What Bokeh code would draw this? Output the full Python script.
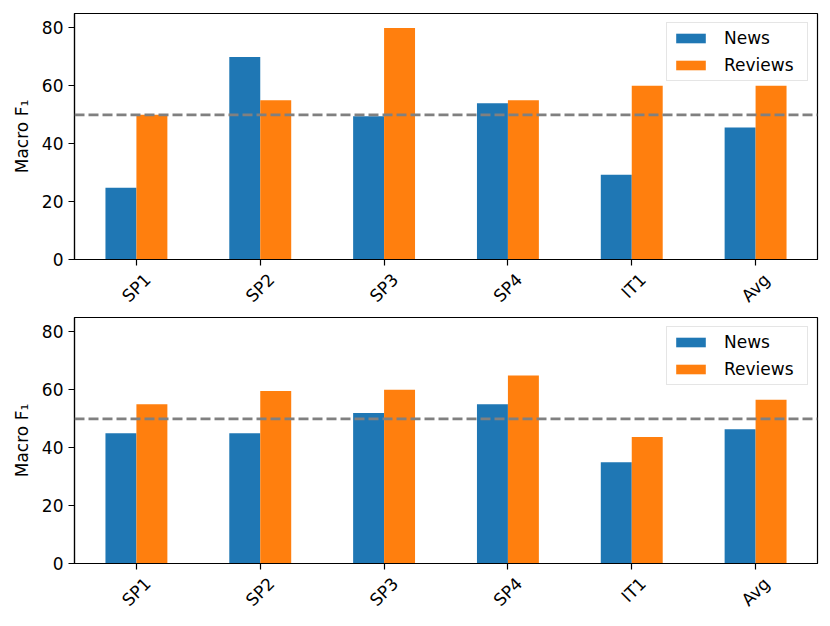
import math
from bokeh.plotting import figure
from bokeh.layouts import column
from bokeh.models import (ColumnDataSource, Range1d, Span, FixedTicker,
                          Legend, LegendItem, LinearAxis)
from bokeh.transform import dodge
from bokeh.embed import file_html
from bokeh.resources import INLINE

categories = ["SP1", "SP2", "SP3", "SP4", "IT1", "Avg"]
series_names = ["News", "Reviews"]
top_news = [24.8, 70, 49.5, 54, 29.3, 45.6]
top_reviews = [50, 55, 80, 55, 60, 60]
bottom_news = [45, 45, 52, 55, 35, 46.4]
bottom_reviews = [55, 59.6, 60, 65, 43.7, 56.6]
y_ticks = [0, 20, 40, 60, 80]
baseline = 50
y_label = "Macro F\u2081"

BLUE = "#1f77b4"
ORANGE = "#ff7f0e"
FONT = "DejaVu Sans"
FS = "17px"
LABEL_SHIFT = 0.09  # centre rotated tick labels under their ticks


def style_axis(ax):
    ax.axis_line_color = "black"
    ax.axis_line_width = 1.2
    ax.major_tick_line_color = "black"
    ax.major_tick_line_width = 1.2
    ax.major_tick_out = 6
    ax.major_tick_in = 0
    ax.minor_tick_line_color = None
    ax.major_label_text_font = FONT
    ax.major_label_text_font_size = FS
    ax.major_label_text_color = "black"


def make_fig(news, reviews, height, border_top, border_bottom):
    n = len(categories)
    idx = list(range(n))
    src = ColumnDataSource(dict(idx=idx, cat=categories, news=news, reviews=reviews))
    p = figure(x_range=Range1d(-0.5, n - 0.5),
               y_range=Range1d(0, 85),
               width=830, height=height, output_backend="svg",
               toolbar_location=None,
               min_border_left=74, min_border_right=13,
               min_border_top=border_top, min_border_bottom=border_bottom)
    p.extra_x_ranges = {"lbl": Range1d(-0.5 - LABEL_SHIFT, n - 0.5 - LABEL_SHIFT)}
    r1 = p.vbar(x=dodge("idx", -0.125), top="news", width=0.25,
                source=src, fill_color=BLUE, line_color=None)
    r2 = p.vbar(x=dodge("idx", 0.125), top="reviews", width=0.25,
                source=src, fill_color=ORANGE, line_color=None)
    p.add_layout(Span(location=baseline, dimension="width", line_color="#808080",
                      line_width=2.7, line_dash="10 4"))
    p.xgrid.visible = False
    p.ygrid.visible = False
    p.outline_line_color = "black"
    p.outline_line_width = 1.2
    p.outline_line_alpha = 1.0
    style_axis(p.xaxis[0])
    style_axis(p.yaxis[0])
    # main x axis: ticks only
    p.xaxis[0].ticker = FixedTicker(ticks=idx)
    p.xaxis[0].major_label_overrides = {i: "" for i in idx}
    p.xaxis[0].major_label_text_font_size = "0px"
    p.xaxis[0].major_label_standoff = 0
    # label axis
    lab = LinearAxis(x_range_name="lbl",
                     ticker=FixedTicker(ticks=idx),
                     major_label_overrides={i: c for i, c in enumerate(categories)})
    style_axis(lab)
    lab.axis_line_color = None
    lab.major_tick_line_color = None
    lab.major_tick_out = 0
    lab.major_label_orientation = math.pi / 4
    lab.major_label_standoff = 11
    p.add_layout(lab, "below")

    p.yaxis[0].ticker = FixedTicker(ticks=y_ticks)
    p.yaxis[0].axis_label = y_label
    p.yaxis[0].axis_label_text_font = FONT
    p.yaxis[0].axis_label_text_font_size = FS
    p.yaxis[0].axis_label_text_font_style = "normal"
    p.yaxis[0].axis_label_text_color = "black"
    p.yaxis[0].axis_label_standoff = 7
    p.yaxis[0].major_label_standoff = 5
    legend = Legend(items=[LegendItem(label=series_names[0], renderers=[r1]),
                           LegendItem(label=series_names[1], renderers=[r2])],
                    location="top_right", margin=9, padding=5, spacing=7,
                    glyph_width=37, glyph_height=12, label_height=20,
                    label_width=78, label_standoff=15,
                    label_text_font=FONT, label_text_font_size=FS,
                    label_text_color="black",
                    border_line_color="#cccccc", border_line_width=1.2,
                    background_fill_alpha=0.8)
    p.add_layout(legend)
    return p


p1 = make_fig(top_news, top_reviews, 316, 13, 57)
p2 = make_fig(bottom_news, bottom_reviews, 308, 1, 61)
layout = column(p1, p2, spacing=0)

open("out.html", "w").write(file_html(layout, INLINE))
